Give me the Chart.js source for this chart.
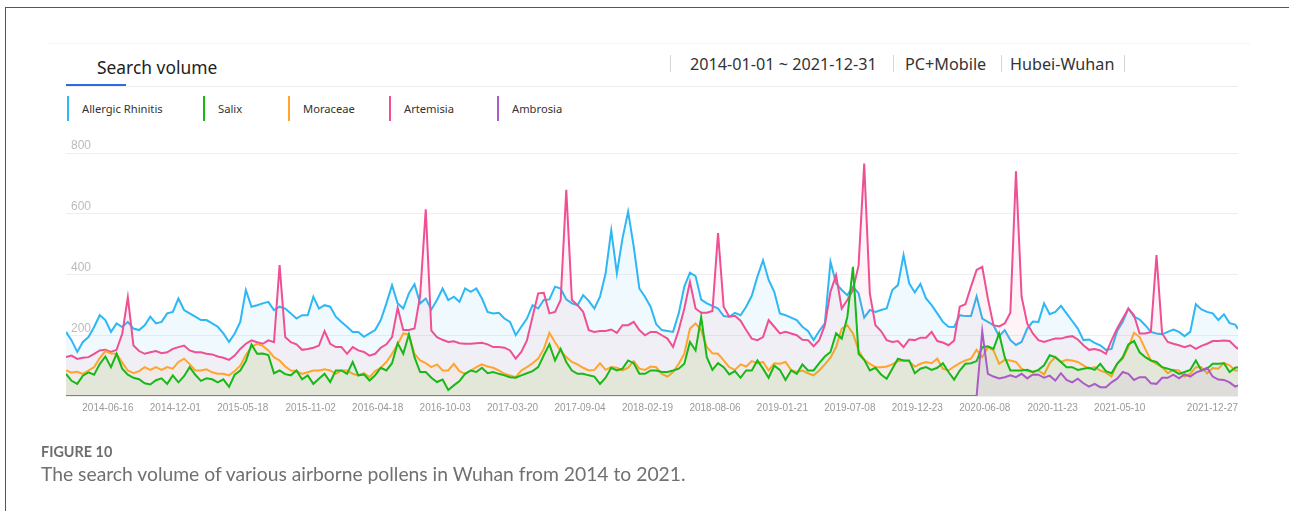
<!DOCTYPE html>
<html>
<head>
<meta charset="utf-8">
<script src="https://cdn.jsdelivr.net/npm/chart.js@4.4.1/dist/chart.umd.min.js"></script>
<style>
  html, body { margin: 0; padding: 0; background: #fff; }
  body { width: 1289px; height: 511px; position: relative; overflow: hidden; font-family: "Noto Sans", "Open Sans", sans-serif; }
  .abs { position: absolute; white-space: nowrap; }
  .frame { left: 5px; top: 7px; width: 1300px; height: 600px; border-top: 1px solid #555; border-left: 1px solid #555; }
  .hline { height: 1px; background: #ededed; }
  .title { left: 97px; top: 55px; font-size: 17.4px; line-height: 24px; color: #222; }
  .tab { left: 66px; top: 84px; width: 60px; height: 2px; background: #2d6be4; }
  .meta { top: 53px; font-size: 16.2px; line-height: 22px; color: #333; }
  .sep { top: 55px; width: 1px; height: 17px; background: #d6d6d6; }
  .lg-bar { top: 96px; width: 2px; height: 25px; }
  .lg-txt { top: 101px; font-size: 11.2px; line-height: 16px; color: #333; }
  .fig { left: 41px; top: 443px; font-family: Lato, "Open Sans", sans-serif; font-weight: bold; font-size: 14.4px; color: #6e6e6e; }
  .cap { left: 41px; top: 462px; font-family: Lato, "Open Sans", sans-serif; font-size: 19.3px; color: #707070; }
  canvas { position: absolute; left: 0; top: 0; }
</style>
</head>
<body>
<div class="abs frame"></div>
<div class="abs hline" style="left:47px; top:43px; width:1203px; background:#f4f4f4;"></div>
<div class="abs title">Search volume</div>
<div class="abs hline" style="left:66px; top:86px; width:1172px;"></div>
<div class="abs tab"></div>

<div class="abs sep" style="left:670px;"></div>
<div class="abs meta" style="left:690px;">2014-01-01 ~ 2021-12-31</div>
<div class="abs sep" style="left:893px;"></div>
<div class="abs meta" style="left:905px;">PC+Mobile</div>
<div class="abs sep" style="left:1001px;"></div>
<div class="abs meta" style="left:1010px;">Hubei-Wuhan</div>
<div class="abs sep" style="left:1124px;"></div>

<div id="legend"></div>

<canvas id="chart" width="1289" height="511"></canvas>

<div class="abs fig">FIGURE 10</div>
<div class="abs cap">The search volume of various airborne pollens in Wuhan from 2014 to 2021.</div>

<script>
// series names and colours
const seriesNames = ["Allergic Rhinitis", "Salix", "Moraceae", "Artemisia", "Ambrosia"];
const seriesColors = ["#2db7f5", "#17b817", "#ffa52e", "#ef5094", "#a95cc8"];

// weekly index data, one value every 2 weeks (week 0 = 2013-12-30), last point = 2021-12-27
const rhinitis = [
  211,183,145,178,194,227,266,250,211,239,
  227,244,222,217,233,261,239,244,272,277,
  321,283,272,261,250,250,239,228,206,178,
  205,244,349,294,299,305,310,283,294,288,
  272,255,266,266,327,288,299,294,261,244,
  228,211,211,195,206,217,250,305,365,305,
  288,338,368,305,321,285,316,354,316,327,
  310,354,343,354,321,277,272,274,255,244,
  200,228,255,299,288,316,318,360,354,318,
  305,299,332,313,288,327,404,545,404,519,
  607,492,354,327,294,236,217,214,211,272,
  360,406,395,317,305,297,288,263,261,274,
  266,294,330,393,447,382,343,272,266,258,
  250,228,214,184,214,239,442,371,349,332,
  360,338,258,283,277,283,288,349,365,464,
  371,341,369,321,299,272,244,228,227,266,
  263,263,328,255,244,233,197,217,184,168,
  178,222,245,244,305,269,277,297,272,247,
  222,184,186,175,167,152,155,214,244,288,
  261,252,233,211,206,203,211,219,211,197,
  211,302,285,277,272,250,269,240,235,221
];
const salix = [
  73,50,40,67,78,70,105,130,95,139,
  90,70,60,55,42,38,52,58,40,68,
  45,65,95,70,50,58,55,45,55,30,
  70,84,115,170,139,140,135,75,84,72,
  68,84,55,68,40,57,73,46,84,84,
  73,112,68,71,51,68,93,84,108,174,
  139,203,128,79,79,60,46,54,20,35,
  49,73,84,79,93,75,79,73,68,62,
  60,68,75,82,95,134,170,117,155,112,
  84,73,73,68,64,40,60,93,84,90,
  117,108,73,73,84,84,79,79,84,90,
  106,178,150,260,128,86,108,95,71,82,
  60,84,84,117,90,60,100,86,53,84,
  73,104,84,84,108,130,145,206,189,260,
  425,139,119,84,93,71,57,90,123,117,
  117,75,90,95,86,93,108,79,54,84,
  106,108,115,161,164,155,206,128,84,84,
  84,86,79,86,101,134,128,112,95,95,
  86,90,93,86,106,82,75,106,128,170,
  181,144,128,117,112,95,90,84,73,79,
  86,117,84,90,106,106,108,79,93,95
];
const moraceae = [
  84,77,80,73,84,95,125,148,140,139,
  110,84,75,82,95,86,95,86,95,90,
  112,123,105,84,84,88,78,73,73,68,
  82,100,135,162,172,165,150,128,117,97,
  84,82,73,78,84,84,88,84,73,84,
  84,73,68,75,62,82,93,112,139,170,
  206,203,139,117,108,95,104,84,84,106,
  82,73,84,95,104,97,93,84,73,68,
  62,84,95,108,123,155,208,177,148,128,
  112,104,93,84,86,108,86,95,93,84,
  93,115,90,86,97,95,73,64,79,106,
  139,222,239,217,161,141,139,117,95,86,
  104,97,115,108,112,84,108,106,112,86,
  79,84,75,68,84,104,126,161,222,233,
  206,150,119,106,95,95,97,104,115,117,
  114,97,106,112,108,123,90,84,97,108,
  117,123,152,128,161,150,106,119,117,112,
  90,82,79,84,71,108,128,112,119,117,
  112,101,90,95,84,77,64,106,123,161,
  208,194,155,117,106,95,75,86,84,64,
  73,95,95,75,92,90,109,101,84,84
];
const artemisia = [
  128,133,122,126,128,139,150,152,145,152,
  205,325,166,148,139,144,148,141,144,155,
  161,166,150,144,144,139,137,130,126,119,
  133,155,172,183,177,172,183,177,431,194,
  177,170,152,155,159,166,214,172,161,161,
  139,161,150,145,133,139,159,170,194,290,
  217,217,222,330,615,215,194,185,178,180,
  174,172,172,174,175,170,161,161,159,150,
  123,145,183,261,338,340,272,277,316,679,
  316,299,277,217,211,214,214,219,208,233,
  233,244,217,200,211,211,200,189,161,217,
  288,376,288,274,274,280,536,294,261,264,
  248,217,189,184,194,250,228,206,211,206,
  200,185,184,164,184,233,343,398,288,316,
  349,430,765,338,233,214,184,178,181,161,
  186,184,192,192,211,181,176,167,183,294,
  302,360,415,425,321,233,229,239,274,740,
  327,239,206,184,178,184,189,189,194,197,
  186,167,152,155,150,139,183,222,255,288,
  266,206,206,211,464,206,178,172,167,161,
  167,155,165,172,181,181,183,181,163,155
];
const ambrosia = [
  0,0,0,0,0,0,0,0,0,0,
  0,0,0,0,0,0,0,0,0,0,
  0,0,0,0,0,0,0,0,0,0,
  0,0,0,0,0,0,0,0,0,0,
  0,0,0,0,0,0,0,0,0,0,
  0,0,0,0,0,0,0,0,0,0,
  0,0,0,0,0,0,0,0,0,0,
  0,0,0,0,0,0,0,0,0,0,
  0,0,0,0,0,0,0,0,0,0,
  0,0,0,0,0,0,0,0,0,0,
  0,0,0,0,0,0,0,0,0,0,
  0,0,0,0,0,0,0,0,0,0,
  0,0,0,0,0,0,0,0,0,0,
  0,0,0,0,0,0,0,0,0,0,
  0,0,0,0,0,0,0,0,0,0,
  0,0,0,0,0,0,0,0,0,0,
  0,0,0,213,73,64,58,62,68,62,
  73,58,71,70,60,67,51,75,53,45,
  57,42,31,40,29,29,45,57,79,73,
  53,62,62,42,40,60,60,70,58,71,
  64,77,84,93,64,54,53,45,31,35
];

// x-axis tick labels and y-axis ticks
const tickLabels = [
  "2014-06-16", "2014-12-01", "2015-05-18", "2015-11-02", "2016-04-18", "2016-10-03",
  "2017-03-20", "2017-09-04", "2018-02-19", "2018-08-06", "2019-01-21", "2019-07-08",
  "2019-12-23", "2020-06-08", "2020-11-23", "2021-05-10", "2021-12-27"
];
const yTicks = [0, 200, 400, 600, 800];

const START = Date.UTC(2013, 11, 30);
const WEEK = 7 * 86400000;
function weekOf(label) {
  const [y, m, d] = label.split("-").map(Number);
  return Math.round((Date.UTC(y, m - 1, d) - START) / WEEK);
}
const tickWeeks = tickLabels.map(weekOf);

// x position of every sample (in weeks)
const weeks = [];
for (let w = 0; w <= 416; w += 2) weeks.push(w);
weeks.push(weekOf("2021-12-27"));

function hexToRgba(hex, a) {
  const n = parseInt(hex.slice(1), 16);
  return `rgba(${(n >> 16) & 255},${(n >> 8) & 255},${n & 255},${a})`;
}

// Legenda em HTML
const legendX = [67, 203, 288, 389, 497];
const legend = document.getElementById("legend");
seriesNames.forEach((name, i) => {
  const bar = document.createElement("div");
  bar.className = "abs lg-bar";
  bar.style.left = legendX[i] + "px";
  bar.style.background = seriesColors[i];
  const txt = document.createElement("div");
  txt.className = "abs lg-txt";
  txt.style.left = legendX[i] + 15 + "px";
  txt.textContent = name;
  legend.appendChild(bar);
  legend.appendChild(txt);
});

const allSeries = [rhinitis, salix, moraceae, artemisia, ambrosia];
const drawOrder = [5, 2, 3, 4, 1];

const datasets = allSeries.map((values, i) => ({
  label: seriesNames[i],
  data: values.map((v, k) => ({ x: weeks[k], y: v })),
  borderColor: seriesColors[i],
  backgroundColor: hexToRgba(seriesColors[i], 0.07),
  borderWidth: 2,
  pointRadius: 0,
  tension: 0,
  fill: "origin",
  order: drawOrder[i],
}));

new Chart(document.getElementById("chart"), {
  type: "line",
  data: { datasets },
  options: {
    responsive: false,
    animation: false,
    layout: { padding: { left: 66, right: 51, top: 153, bottom: 91 } },
    plugins: { legend: { display: false }, tooltip: { enabled: false } },
    scales: {
      x: {
        type: "linear",
        min: 0,
        max: weekOf("2021-12-27"),
        afterBuildTicks: (s) => { s.ticks = tickWeeks.map((v) => ({ value: v })); },
        afterFit: (s) => { s.height = 24; },
        grid: { display: false, drawTicks: false },
        border: { display: false },
        ticks: {
          autoSkip: false,
          maxRotation: 0,
          align: "end",
          padding: 6,
          color: "#999",
          font: { family: "Liberation Sans", size: 10 },
          callback: (v) => tickLabels[tickWeeks.indexOf(v)] || "",
        },
      },
      y: {
        min: 0,
        max: 800,
        afterBuildTicks: (s) => { s.ticks = yTicks.map((v) => ({ value: v })); },
        afterFit: (s) => { s.width = 0; },
        grid: { color: "#efefef", drawTicks: false },
        border: { display: false },
        ticks: {
          mirror: true,
          padding: 5,
          labelOffset: -7,
          color: "#bbb",
          font: { family: "Liberation Sans", size: 12 },
          callback: (v) => (v === 0 ? "" : v),
        },
      },
    },
  },
});
</script>
</body>
</html>
